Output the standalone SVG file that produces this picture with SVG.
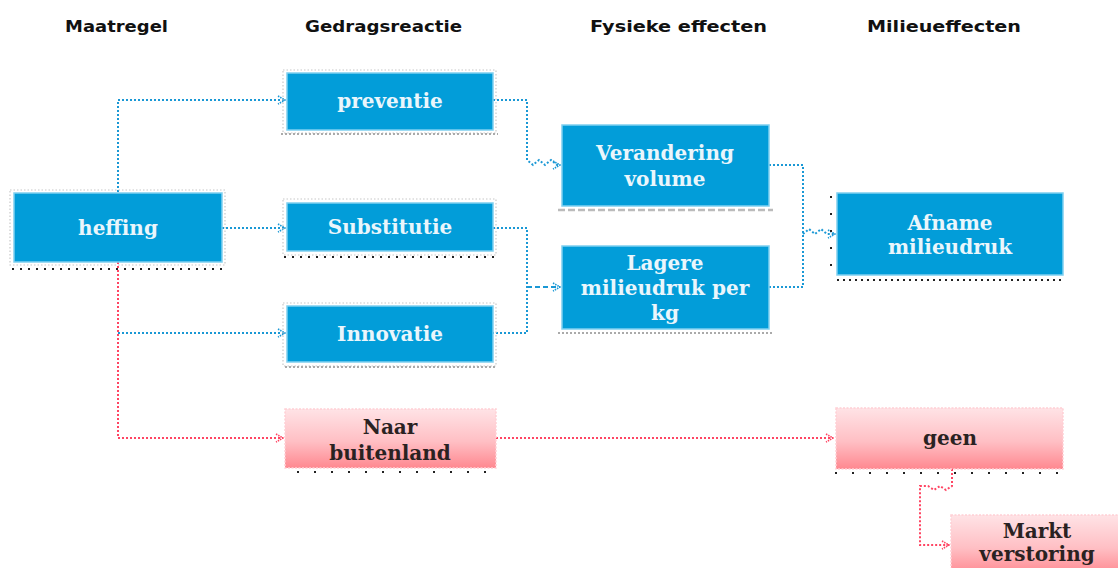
<svg xmlns="http://www.w3.org/2000/svg" width="1118" height="568" viewBox="0 0 1118 568">
<defs>
<linearGradient id="pink" x1="0" y1="0" x2="0" y2="1">
<stop offset="0" stop-color="#ffe3e6"/>
<stop offset="0.55" stop-color="#ffbfc4"/>
<stop offset="1" stop-color="#ff8890"/>
</linearGradient>
<marker id="ab" viewBox="0 0 10 10" refX="9" refY="5" markerWidth="10" markerHeight="10" markerUnits="userSpaceOnUse" orient="auto">
<path d="M2,1 L9,5 L2,9" fill="none" stroke="#1a98d5" stroke-width="1.6" stroke-dasharray="1.5 1"/>
</marker>
<marker id="ar" viewBox="0 0 10 10" refX="9" refY="5" markerWidth="10" markerHeight="10" markerUnits="userSpaceOnUse" orient="auto">
<path d="M2,1 L9,5 L2,9" fill="none" stroke="#ff4563" stroke-width="1.6" stroke-dasharray="1.5 1"/>
</marker>
</defs>
<style>
.hdr{font-family:"DejaVu Sans",sans-serif;font-weight:bold;font-size:15px;fill:#111}
.blue{fill:#029dd9;stroke:#7fd0f0;stroke-width:1.5}
.pinkb{fill:url(#pink);stroke:#ffd0d5;stroke-width:1.5;stroke-dasharray:2 1.5}
.ghost{fill:none;stroke:#c8c8c8;stroke-width:1.2;stroke-dasharray:1.5 2}
.ul{stroke:#222;stroke-width:2;stroke-dasharray:2 6;fill:none}
.ul4{stroke:#222;stroke-width:2;stroke-dasharray:2 4;fill:none}
.ul15{stroke:#222;stroke-width:2;stroke-dasharray:2 15;fill:none}
.ulg{stroke:#aaa;stroke-width:2;stroke-dasharray:2 2;fill:none}
.uld{stroke:#bbb;stroke-width:2.5;stroke-dasharray:7 3;fill:none}
.tw{font-family:"DejaVu Serif",serif;font-weight:bold;font-size:20px;fill:#eaf6fc;text-anchor:middle}
.td{font-family:"DejaVu Serif",serif;font-weight:bold;font-size:20px;fill:#2a2222;text-anchor:middle}
.cb{fill:none;stroke:#1a98d5;stroke-width:2;stroke-dasharray:2 2}
.cbd{fill:none;stroke:#1a98d5;stroke-width:2;stroke-dasharray:5 3}
.cr{fill:none;stroke:#ff4563;stroke-width:2;stroke-dasharray:2 2}
</style>
<g id="headers">
<text class="hdr" x="65" y="32" textLength="103" lengthAdjust="spacingAndGlyphs">Maatregel</text>
<text class="hdr" x="305" y="32" textLength="157" lengthAdjust="spacingAndGlyphs">Gedragsreactie</text>
<text class="hdr" x="590" y="32" textLength="177" lengthAdjust="spacingAndGlyphs">Fysieke effecten</text>
<text class="hdr" x="867" y="32" textLength="154" lengthAdjust="spacingAndGlyphs">Milieueffecten</text>
</g>
<g id="connectors">
<path class="cb" d="M118,192 V100 H285" marker-end="url(#ab)"/>
<path class="cb" d="M222,228 H285" marker-end="url(#ab)"/>
<path class="cb" d="M118,333 H285" marker-end="url(#ab)"/>
<path class="cr" d="M118,262 V438 H283" marker-end="url(#ar)"/>
<path class="cb" d="M493,100 H527 V160 L533,165 L539,160 L545,165 L551,160 L557,165 H560" marker-end="url(#ab)"/>
<path class="cb" d="M493,228 H527 V333 H493"/>
<path class="cbd" d="M527,287 H560" marker-end="url(#ab)"/>
<path class="cb" d="M769,165 H803 V287 H769"/>
<path class="cb" d="M803,234 L809,229 L815,234 L821,229 L827,234 H835" marker-end="url(#ab)"/>
<path class="cr" d="M496,438 H833" marker-end="url(#ar)"/>
<path class="cr" d="M952,469 V486 L946,490 L940,486 L934,490 L928,486 H920 V545 H949" marker-end="url(#ar)"/>
</g>
<g id="heffing">
<rect class="ghost" x="10" y="190" width="215" height="75"/>
<rect class="blue" x="14" y="193" width="208" height="69"/>
<line class="ul" x1="12" y1="269" x2="224" y2="269"/>
<text class="tw" x="118" y="235">heffing</text>
</g>
<g id="preventie">
<rect class="ghost" x="283" y="70" width="213" height="63"/>
<rect class="blue" x="287" y="73" width="206" height="57"/>
<line class="ulg" x1="281" y1="134" x2="498" y2="134"/>
<text class="tw" x="390" y="108">preventie</text>
</g>
<g id="substitutie">
<rect class="ghost" x="283" y="199" width="213" height="56"/>
<rect class="blue" x="287" y="203" width="206" height="48"/>
<line class="ul" x1="284" y1="257" x2="496" y2="257"/>
<text class="tw" x="390" y="234">Substitutie</text>
</g>
<g id="innovatie">
<rect class="ghost" x="283" y="303" width="213" height="63"/>
<rect class="blue" x="287" y="306" width="206" height="56"/>
<line class="ulg" x1="285" y1="367" x2="496" y2="367"/>
<text class="tw" x="390" y="341">Innovatie</text>
</g>
<g id="naar-buitenland">
<rect class="pinkb" x="285" y="409" width="211" height="59"/>
<line class="ul15" x1="297" y1="472" x2="496" y2="472"/>
<text class="td" x="390" y="434">Naar</text>
<text class="td" x="390" y="460">buitenland</text>
</g>
<g id="verandering-volume">
<rect class="blue" x="562" y="125" width="207" height="81"/>
<line class="uld" x1="558" y1="210" x2="773" y2="210"/>
<text class="tw" x="665" y="160">Verandering</text>
<text class="tw" x="665" y="186">volume</text>
</g>
<g id="lagere-milieudruk">
<rect class="blue" x="562" y="246" width="207" height="83"/>
<line class="ulg" x1="558" y1="333" x2="773" y2="333"/>
<text class="tw" x="665" y="270">Lagere</text>
<text class="tw" x="665" y="295">milieudruk per</text>
<text class="tw" x="665" y="320">kg</text>
</g>
<g id="afname-milieudruk">
<rect class="blue" x="837" y="193" width="226" height="82"/>
<line class="ul15" x1="831" y1="196" x2="831" y2="275"/>
<line class="ul4" x1="837" y1="280" x2="1065" y2="280"/>
<text class="tw" x="950" y="230">Afname</text>
<text class="tw" x="950" y="254">milieudruk</text>
</g>
<g id="geen">
<rect class="pinkb" x="836" y="408" width="227" height="61"/>
<line class="ul15" x1="835" y1="473" x2="1063" y2="473"/>
<text class="td" x="950" y="445">geen</text>
</g>
<g id="markt-verstoring">
<rect class="pinkb" x="951" y="515" width="172" height="60"/>
<text class="td" x="1037" y="538">Markt</text>
<text class="td" x="1037" y="561">verstoring</text>
</g>
</svg>
